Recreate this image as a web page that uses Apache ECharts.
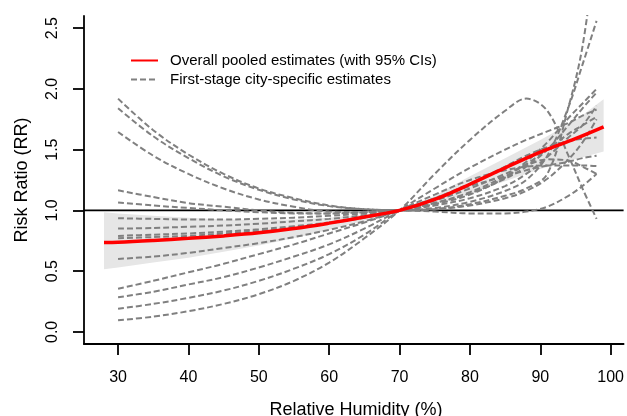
<!DOCTYPE html>
<html>
<head>
<meta charset="utf-8">
<script src="https://cdn.jsdelivr.net/npm/echarts@6/dist/echarts.min.js"></script>
<style>html,body{margin:0;padding:0;background:#fff;}#c{width:627px;height:416px;}</style>
</head>
<body>
<div id="c"></div>
<script>
// ---- data ----
var xTicks = [30, 40, 50, 60, 70, 80, 90, 100];
var yTicks = [0, 0.5, 1, 1.5, 2, 2.5];

var pooledX  = [28, 30, 35, 40, 45, 50, 55, 60, 65, 70, 75, 80, 85, 90, 95, 99];
var pooledRR = [0.735, 0.737, 0.752, 0.77, 0.79, 0.815, 0.85, 0.895, 0.945, 1.0, 1.09, 1.215, 1.35, 1.48, 1.59, 1.687];
var ciLower  = [0.515, 0.53, 0.57, 0.61, 0.66, 0.71, 0.77, 0.84, 0.915, 1.0, 1.05, 1.14, 1.24, 1.34, 1.42, 1.485];
var ciUpper  = [0.985, 0.975, 0.955, 0.94, 0.925, 0.92, 0.925, 0.94, 0.965, 1.0, 1.12, 1.28, 1.43, 1.58, 1.74, 1.915];

var cityX = [30, 35, 40, 45, 50, 55, 60, 65, 70, 75, 80, 85, 88, 91, 94, 96, 98];
var city01 = [1.92, 1.66, 1.46, 1.30, 1.18, 1.10, 1.04, 1.01, 1.0, 1.01, 1.05, 1.12, 1.18, 1.30, 1.85, 2.35, 3.2];
var city02 = [1.84, 1.61, 1.43, 1.28, 1.17, 1.09, 1.035, 1.01, 1.0, 1.02, 1.07, 1.16, 1.25, 1.45, 1.85, 2.2, 2.56];
var city03 = [1.645, 1.45, 1.30, 1.18, 1.09, 1.03, 0.99, 0.985, 1.0, 1.05, 1.13, 1.27, 1.40, 1.56, 1.76, 1.88, 2.0];
var city04 = [1.165, 1.11, 1.06, 1.03, 1.0, 0.98, 0.975, 0.985, 1.0, 1.01, 1.04, 1.10, 1.16, 1.26, 1.42, 1.56, 1.75];
var city05 = [1.065, 1.04, 1.02, 1.0, 0.985, 0.975, 0.975, 0.985, 1.0, 0.99, 0.975, 0.975, 0.99, 1.03, 1.12, 1.2, 1.3];
var city06 = [0.935, 0.93, 0.925, 0.925, 0.93, 0.94, 0.955, 0.975, 1.0, 1.04, 1.10, 1.20, 1.30, 1.44, 1.60, 1.70, 1.86];
var city07 = [0.85, 0.855, 0.865, 0.875, 0.89, 0.91, 0.93, 0.96, 1.0, 1.06, 1.15, 1.28, 1.38, 1.50, 1.63, 1.70, 1.77];
var city08 = [0.79, 0.80, 0.81, 0.825, 0.845, 0.87, 0.90, 0.945, 1.0, 1.06, 1.14, 1.26, 1.36, 1.50, 1.70, 1.84, 1.97];
var city09 = [0.77, 0.78, 0.79, 0.81, 0.83, 0.86, 0.895, 0.94, 1.0, 1.08, 1.18, 1.30, 1.37, 1.42, 1.41, 1.36, 1.30];
var city10 = [0.60, 0.62, 0.65, 0.69, 0.73, 0.78, 0.84, 0.91, 1.0, 1.10, 1.22, 1.36, 1.45, 1.52, 1.57, 1.59, 1.60];
var city11 = [0.355, 0.42, 0.49, 0.56, 0.64, 0.72, 0.81, 0.90, 1.0, 1.10, 1.20, 1.28, 1.33, 1.37, 1.40, 1.43, 1.45];
var city12 = [0.285, 0.33, 0.39, 0.45, 0.53, 0.62, 0.72, 0.85, 1.0, 1.13, 1.25, 1.33, 1.36, 1.37, 1.37, 1.37, 1.365];
var city13 = [0.19, 0.23, 0.28, 0.34, 0.42, 0.52, 0.64, 0.80, 1.0, 1.18, 1.35, 1.50, 1.58, 1.65, 1.72, 1.78, 1.83];
var city14 = [0.095, 0.125, 0.17, 0.23, 0.31, 0.42, 0.57, 0.77, 1.0, 1.30, 1.58, 1.82, 1.92, 1.82, 1.45, 1.18, 0.93];
var cities = [city01, city02, city03, city04, city05, city06, city07, city08, city09, city10, city11, city12, city13, city14];

var pooledName = 'Overall pooled estimates (with 95% CIs)';
var cityName = 'First-stage city-specific estimates';
var xTitle = 'Relative Humidity (%)';
var yTitle = 'Risk Ratio (RR)';

// ---- chart ----
var FONT = '"Liberation Sans", Arial, Helvetica, sans-serif';
var chart = echarts.init(document.getElementById('c'), null, {renderer: 'canvas'});

function pairs(xs, ys) { return xs.map(function (x, i) { return [x, ys[i]]; }); }

var series = [];
// CI band
series.push({
  type: 'custom',
  silent: true,
  z: 1,
  data: pooledX.map(function (x, i) { return [x, ciLower[i], ciUpper[i]]; }),
  encode: {x: 0, y: [1, 2]},
  renderItem: function (params, api) {
    if (params.dataIndex !== 0) return null;
    var up = pooledX.map(function (x, i) { return api.coord([x, ciUpper[i]]); });
    var lo = pooledX.map(function (x, i) { return api.coord([x, ciLower[i]]); }).reverse();
    return {type: 'polygon', shape: {points: up.concat(lo)}, style: {fill: '#e6e6e6'}};
  }
});
// reference line at RR = 1
series.push({
  type: 'line', silent: true, z: 2, symbol: 'none',
  data: [[25.16, 1], [101.84, 1]],
  lineStyle: {color: '#000', width: 1.8}
});
cities.forEach(function (c) {
  series.push({
    name: cityName, type: 'line', z: 3, symbol: 'none', smooth: 0.35,
    data: pairs(cityX, c),
    lineStyle: {color: '#808080', width: 2, type: [6, 3]},
    itemStyle: {color: '#808080'}
  });
});
series.push({
  name: pooledName, type: 'line', z: 4, symbol: 'none', smooth: 0.35,
  data: pairs(pooledX, pooledRR),
  lineStyle: {color: '#ff0000', width: 3.5},
  itemStyle: {color: '#ff0000'}
});

chart.setOption({
  animation: false,
  backgroundColor: '#fff',
  textStyle: {fontFamily: FONT},
  grid: {left: 84, right: 0, top: 16, bottom: 72, containLabel: false},
  legend: {
    orient: 'vertical', left: 125, top: 48,
    itemWidth: 27, itemHeight: 14, itemGap: 4,
    data: [pooledName, cityName],
    itemStyle: {opacity: 0},
    textStyle: {fontFamily: FONT, fontSize: 15, color: '#000', padding: [0, 0, 0, 7]},
    selectedMode: false
  },
  graphic: [{
    type: 'text', x: 356, y: 410, silent: true,
    style: {text: xTitle, font: '18px ' + FONT, fill: '#000', align: 'center', verticalAlign: 'middle'}
  }],
  xAxis: {
    type: 'value', min: 25.16, max: 101.84,
    axisLine: {show: true, onZero: false, lineStyle: {color: '#000', width: 1.8}},
    axisTick: {show: true, inside: false, length: 11, customValues: xTicks, lineStyle: {color: '#000', width: 1.8}},
    axisLabel: {customValues: xTicks, margin: 26, fontFamily: FONT, fontSize: 16, color: '#000'},
    splitLine: {show: false}
  },
  yAxis: {
    type: 'value', min: -0.1, max: 2.6,
    name: yTitle, nameLocation: 'middle', nameGap: 53,
    nameTextStyle: {fontFamily: FONT, fontSize: 18, color: '#000'},
    axisLine: {show: true, onZero: false, lineStyle: {color: '#000', width: 1.8}},
    axisTick: {show: true, inside: false, length: 11, customValues: yTicks, lineStyle: {color: '#000', width: 1.8}},
    axisLabel: {customValues: yTicks, rotate: 90, margin: 23, fontFamily: FONT, fontSize: 16, color: '#000',
      formatter: function (v) { return Number(v).toFixed(1); }},
    splitLine: {show: false}
  },
  series: series
});
</script>
</body>
</html>
